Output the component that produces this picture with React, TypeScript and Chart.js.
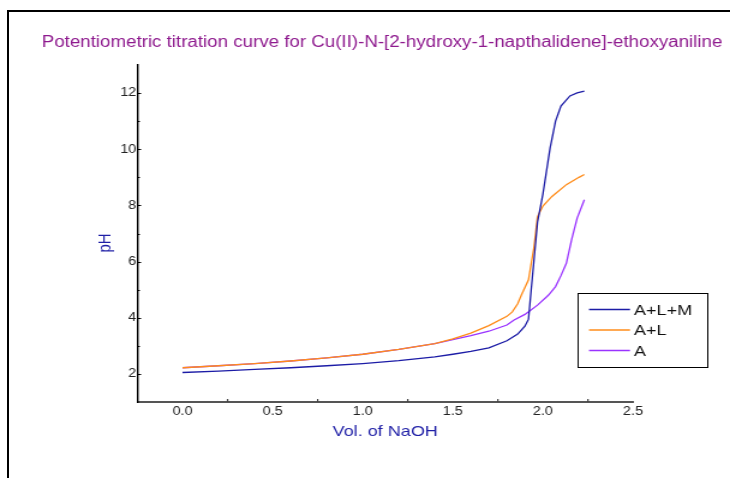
import React, { useEffect, useRef } from "react";
import { Chart, registerables } from "chart.js";
Chart.register(...registerables);

// ---- data ----
const seriesLabels = ["A+L+M", "A+L", "A"];
const seriesColors = ["#1c1ca6", "#ff8c1a", "#9a33ff"];

const volALM = [0, 0.2, 0.4, 0.6, 0.8, 1.0, 1.2, 1.4, 1.5, 1.6, 1.7, 1.8, 1.86, 1.9, 1.92, 1.93, 1.97, 2.0, 2.04, 2.07, 2.1, 2.15, 2.19, 2.23];
const phALM = [2.05, 2.1, 2.16, 2.22, 2.29, 2.37, 2.47, 2.61, 2.7, 2.8, 2.93, 3.18, 3.42, 3.7, 3.95, 4.65, 7.4, 8.4, 10.05, 11.0, 11.54, 11.9, 12.01, 12.07];

const volAL = [0, 0.2, 0.4, 0.6, 0.8, 1.0, 1.2, 1.4, 1.5, 1.6, 1.7, 1.8, 1.83, 1.86, 1.88, 1.92, 1.95, 1.97, 2.0, 2.05, 2.13, 2.2, 2.23];
const phAL = [2.22, 2.29, 2.37, 2.46, 2.57, 2.7, 2.87, 3.08, 3.25, 3.45, 3.72, 4.05, 4.21, 4.5, 4.8, 5.35, 6.5, 7.6, 7.98, 8.32, 8.74, 9.0, 9.1];

const volA = [0, 0.2, 0.4, 0.6, 0.8, 1.0, 1.2, 1.4, 1.5, 1.6, 1.7, 1.8, 1.84, 1.9, 1.97, 2.03, 2.07, 2.1, 2.13, 2.16, 2.19, 2.23];
const phA = [2.22, 2.29, 2.37, 2.46, 2.57, 2.7, 2.87, 3.08, 3.22, 3.36, 3.52, 3.74, 3.92, 4.12, 4.45, 4.8, 5.11, 5.5, 5.94, 6.8, 7.55, 8.2];

const xTickValues = [0, 0.5, 1.0, 1.5, 2.0, 2.5];
const xMinorTicks = [0.25, 0.75, 1.25, 1.75, 2.25];
const yTickValues = [2, 4, 6, 8, 10, 12];
const yMinorTicks = [3, 5, 7, 9, 11];

const titleText = "Potentiometric titration curve for Cu(II)-N-[2-hydroxy-1-napthalidene]-ethoxyaniline";
const xTitle = "Vol. of NaOH";
const yTitle = "pH";

// ---- layout (screen px, canvas is stretched horizontally) ----
const NAT_W = 608;
const H = 478;
const S = 730 / NAT_W;
const FONT = "'Liberation Sans', Arial, Helvetica, sans-serif";

const decorPlugin = {
  id: "decor",
  afterDraw(chart: any) {
    const { ctx, scales } = chart;
    const xs = scales.x;
    const ys = scales.y;
    const area = chart.chartArea;
    ctx.save();
    // minor ticks x (inside, above axis)
    ctx.strokeStyle = "#444";
    ctx.lineWidth = 1.2;
    xMinorTicks.forEach((v) => {
      const px = xs.getPixelForValue(v);
      ctx.beginPath();
      ctx.moveTo(px, area.bottom);
      ctx.lineTo(px, area.bottom - 3);
      ctx.stroke();
    });
    // y ticks (inside)
    ctx.strokeStyle = "#000";
    ctx.lineWidth = 1;
    yTickValues.forEach((v) => {
      const py = Math.round(ys.getPixelForValue(v)) + 0.5;
      ctx.beginPath();
      ctx.moveTo(area.left, py);
      ctx.lineTo(area.left + 3, py);
      ctx.stroke();
    });
    yMinorTicks.forEach((v) => {
      const py = Math.round(ys.getPixelForValue(v)) + 0.5;
      ctx.beginPath();
      ctx.moveTo(area.left, py);
      ctx.lineTo(area.left + 2, py);
      ctx.stroke();
    });

    // title
    ctx.fillStyle = "#8e1a8e";
    ctx.font = `15.6px ${FONT}`;
    ctx.textAlign = "center";
    ctx.textBaseline = "alphabetic";
    ctx.fillText(titleText, 382 / S, 47);

    // y title
    ctx.save();
    ctx.translate(106 / S, 243);
    ctx.rotate(-Math.PI / 2);
    ctx.fillStyle = "#1f1fa6";
    ctx.font = `15px ${FONT}`;
    ctx.textAlign = "center";
    ctx.textBaseline = "middle";
    ctx.fillText(yTitle, 0, 0);
    ctx.restore();

    // legend
    const bx1 = 577 / S, bx2 = 707 / S, by1 = 293, by2 = 367;
    ctx.strokeStyle = "#000";
    ctx.lineWidth = 1;
    ctx.strokeRect(Math.round(bx1) + 0.5, by1 + 0.5, Math.round(bx2 - bx1), by2 - by1);
    const rows = [309.5, 330, 350.5];
    ctx.font = `15px ${FONT}`;
    ctx.textAlign = "left";
    ctx.textBaseline = "middle";
    chart.data.datasets.forEach((ds: any, i: number) => {
      const y = rows[i];
      ctx.strokeStyle = ds.borderColor;
      ctx.lineWidth = 1.6;
      ctx.beginPath();
      ctx.moveTo(589 / S, y);
      ctx.lineTo(630 / S, y);
      ctx.stroke();
      ctx.fillStyle = "#111";
      ctx.fillText(ds.label, 634 / S, y + 1);
    });
    ctx.restore();
  },
};

const toPoints = (xs: number[], ys: number[]) => xs.map((x, i) => ({ x, y: ys[i] }));

export default function App() {
  const ref = useRef<HTMLCanvasElement | null>(null);

  useEffect(() => {
    if (!ref.current) return;
    const series = [
      toPoints(volALM, phALM),
      toPoints(volAL, phAL),
      toPoints(volA, phA),
    ];
    const chart = new Chart(ref.current, {
      type: "scatter",
      data: {
        datasets: series.map((pts, i) => ({
          label: seriesLabels[i],
          data: pts,
          showLine: true,
          borderColor: seriesColors[i],
          backgroundColor: seriesColors[i],
          borderWidth: 1.3,
          pointRadius: 0,
          tension: 0,
        })),
      },
      options: {
        responsive: false,
        devicePixelRatio: 1,
        animation: false,
        layout: { padding: { left: 70, right: NAT_W - 633 / S, top: 65, bottom: 37 } },
        plugins: {
          legend: { display: false },
          title: { display: false },
          tooltip: { enabled: false },
        },
        scales: {
          x: {
            type: "linear",
            min: -0.25,
            max: 2.5,
            afterBuildTicks: (scale: any) => {
              scale.ticks = xTickValues.map((v) => ({ value: v }));
            },
            afterFit: (scale: any) => {
              scale.height = 39;
            },
            grid: { display: false, drawTicks: false },
            border: { display: true, color: "#555", width: 2 },
            ticks: {
              padding: 2,
              color: "#222",
              font: { family: FONT, size: 12 },
              callback: (v: any) => Number(v).toFixed(1),
              maxRotation: 0,
              autoSkip: false,
            },
            title: {
              display: true,
              text: xTitle,
              color: "#1f1fa6",
              font: { family: FONT, size: 15 },
              padding: { top: 0, bottom: 0 },
            },
          },
          y: {
            type: "linear",
            min: 1,
            max: 13,
            afterBuildTicks: (scale: any) => {
              scale.ticks = yTickValues.map((v) => ({ value: v }));
            },
            afterFit: (scale: any) => {
              scale.width = 114.5 - 70;
            },
            grid: { display: false, drawTicks: false },
            border: { display: true, color: "#000", width: 1.4 },
            ticks: {
              padding: 1,
              color: "#222",
              font: { family: FONT, size: 12 },
              autoSkip: false,
            },
          },
        },
      },
      plugins: [decorPlugin],
    });
    return () => chart.destroy();
  }, []);

  return (
    <div style={{ position: "fixed", left: 0, top: 0, width: 730, height: H, overflow: "hidden", background: "#fff" }}>
      <div
        style={{
          position: "absolute",
          left: 7,
          top: 10,
          width: 723,
          height: H - 10,
          borderLeft: "2px solid #000",
          borderTop: "2px solid #000",
          boxSizing: "border-box",
        }}
      />
      <div
        style={{
          position: "absolute",
          left: 0,
          top: 0,
          width: NAT_W,
          height: H,
          transform: `scaleX(${S})`,
          transformOrigin: "0 0",
        }}
      >
        <canvas ref={ref} width={NAT_W} height={H} style={{ display: "block", width: NAT_W, height: H }} />
      </div>
    </div>
  );
}
